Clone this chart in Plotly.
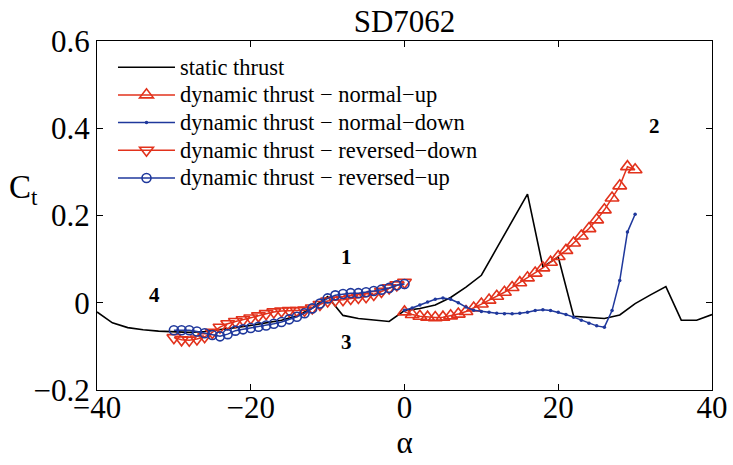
import plotly.graph_objects as go

# ---------------- data ----------------
static_alpha = [-40, -38, -36, -34, -32, -30, -28, -26, -24, -22, -20, -18, -16, -14, -12, -10,
                -8, -6, -4, -2, 0, 2, 4, 6, 8, 10, 12, 14, 16, 18, 20, 22, 24, 26, 28, 30,
                32, 34, 36, 38, 40]
static_ct = [-0.021, -0.046, -0.057, -0.062, -0.065, -0.067, -0.068, -0.066, -0.062, -0.057,
             -0.052, -0.046, -0.040, -0.030, -0.012, 0.014, -0.029, -0.036, -0.040, -0.043,
             -0.018, -0.013, -0.005, 0.012, 0.036, 0.063, 0.125, 0.188, 0.249, 0.082, 0.105,
             -0.031, -0.033, -0.036, -0.028, -0.002, 0.018, 0.037, -0.040, -0.040, -0.027]

pos_alpha = list(range(0, 31))
normal_up_ct = [-0.021, -0.027, -0.031, -0.033, -0.034, -0.033, -0.030, -0.026, -0.020, -0.012,
                -0.003, 0.006, 0.015, 0.024, 0.035, 0.046, 0.057, 0.068, 0.080, 0.093,
                0.106, 0.120, 0.137, 0.153, 0.170, 0.190, 0.213, 0.240, 0.268, 0.312, 0.305]
normal_down_ct = [-0.017, -0.012, -0.005, 0.002, 0.008, 0.011, 0.008, 0.000, -0.010, -0.017,
                  -0.020, -0.022, -0.024, -0.025, -0.025, -0.024, -0.022, -0.018, -0.016, -0.018,
                  -0.022, -0.027, -0.033, -0.040, -0.047, -0.053, -0.056, -0.018, 0.051, 0.162,
                  0.203]

neg_alpha = list(range(-30, 1))
reversed_down_ct = [-0.080, -0.085, -0.086, -0.083, -0.078, -0.068, -0.056, -0.048, -0.043,
                    -0.039, -0.035, -0.030, -0.025, -0.021, -0.019, -0.018, -0.018, -0.017,
                    -0.012, -0.004, 0.004, 0.006, 0.007, 0.010, 0.012, 0.014, 0.019, 0.026,
                    0.034, 0.041, 0.047]
reversed_up_ct = [-0.063, -0.063, -0.063, -0.066, -0.070, -0.074, -0.077, -0.072, -0.064,
                  -0.061, -0.058, -0.055, -0.052, -0.048, -0.044, -0.038, -0.032, -0.024,
                  -0.013, -0.002, 0.010, 0.017, 0.020, 0.022, 0.022, 0.024, 0.027, 0.030,
                  0.034, 0.040, 0.043]

series_names = ["static thrust",
                "dynamic thrust \u2212 normal\u2212up",
                "dynamic thrust \u2212 normal\u2212down",
                "dynamic thrust \u2212 reversed\u2212down",
                "dynamic thrust \u2212 reversed\u2212up"]

x_ticks = [-40, -20, 0, 20, 40]
x_ticklabels = ["\u221240", "\u221220", "0", "20", "40"]
y_ticks = [-0.2, 0, 0.2, 0.4, 0.6]
y_ticklabels = ["\u22120.2", "0", "0.2", "0.4", "0.6"]

region_labels = ["1", "2", "3", "4"]
region_x = [-7.5, 32.5, -7.5, -32.5]
region_y = [0.105, 0.405, -0.091, 0.017]

RED = "#e2321c"
BLUE = "#1f389c"
FONT = "Liberation Serif, Times New Roman, Times, serif"


def lname(s):
    return '<span style="font-size:22.5px">' + s + '</span>'


fig = go.Figure()
fig.add_trace(go.Scatter(x=static_alpha, y=static_ct, mode="lines", name=lname(series_names[0]),
                         line=dict(color="black", width=1.6)))
fig.add_trace(go.Scatter(x=pos_alpha, y=normal_up_ct, mode="lines+markers",
                         name=lname(series_names[1]),
                         line=dict(color=RED, width=1.5),
                         marker=dict(symbol="triangle-up-open", size=12, color=RED,
                                     line=dict(width=1.6, color=RED))))
fig.add_trace(go.Scatter(x=pos_alpha, y=normal_down_ct, mode="lines+markers",
                         name=lname(series_names[2]),
                         line=dict(color=BLUE, width=1.5),
                         marker=dict(symbol="circle", size=3.5, color=BLUE)))
fig.add_trace(go.Scatter(x=neg_alpha, y=reversed_down_ct, mode="lines+markers",
                         name=lname(series_names[3]),
                         line=dict(color=RED, width=1.5),
                         marker=dict(symbol="triangle-down-open", size=12, color=RED,
                                     line=dict(width=1.6, color=RED))))
fig.add_trace(go.Scatter(x=neg_alpha, y=reversed_up_ct, mode="lines+markers",
                         name=lname(series_names[4]),
                         line=dict(color=BLUE, width=1.5),
                         marker=dict(symbol="circle-open", size=9, color=BLUE,
                                     line=dict(width=1.6, color=BLUE))))

for t, xx, yy in zip(region_labels, region_x, region_y):
    fig.add_annotation(x=xx, y=yy, text="<b>" + t + "</b>", showarrow=False,
                       font=dict(family=FONT, size=21, color="black"))

fig.add_annotation(xref="paper", yref="paper", x=-0.12, y=0.575,
                   text="C<sub>t</sub>", showarrow=False, xanchor="center", yanchor="middle",
                   font=dict(family=FONT, size=33, color="black"))

axis_common = dict(showline=True, linecolor="black", linewidth=1.3, mirror="ticks",
                   ticks="inside", ticklen=6, tickwidth=1, tickcolor="black",
                   showgrid=False, zeroline=False, automargin=False,
                   tickfont=dict(family=FONT, size=31, color="black"))

fig.update_layout(
    width=733, height=465,
    margin=dict(l=97, r=21, t=41, b=75),
    paper_bgcolor="white", plot_bgcolor="white",
    title=dict(text="SD7062", x=0.5, xref="paper", xanchor="center", y=0.955, yanchor="middle",
               font=dict(family=FONT, size=31, color="black"), automargin=False),
    xaxis=dict(range=[-40, 40], tickvals=x_ticks, ticktext=x_ticklabels,
               ticklabelstandoff=-10,
               title=dict(text="\u03b1", font=dict(family=FONT, size=31, color="black"),
                          standoff=0),
               **axis_common),
    yaxis=dict(range=[-0.2, 0.6], tickvals=y_ticks, ticktext=y_ticklabels, **axis_common),
    legend=dict(x=0.026, y=0.979, xanchor="left", yanchor="top", bgcolor="rgba(0,0,0,0)",
                font=dict(family=FONT, size=19, color="black"), tracegroupgap=0,
                itemwidth=57),
    showlegend=True,
)

fig.write_html("out.html")
